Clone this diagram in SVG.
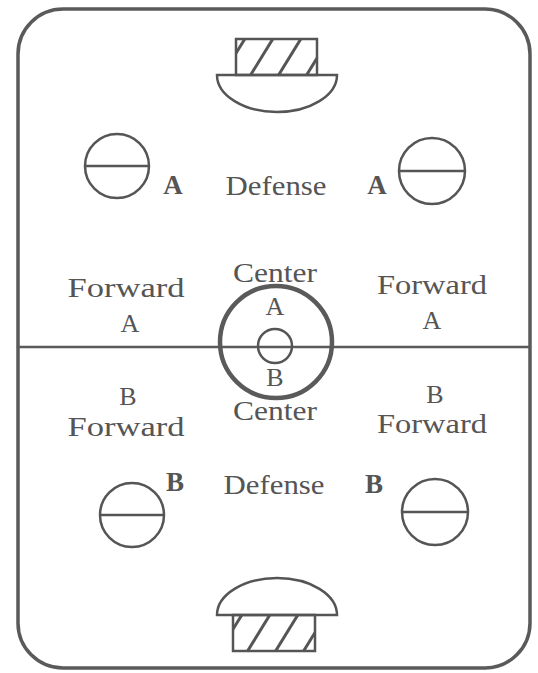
<svg xmlns="http://www.w3.org/2000/svg" width="538" height="673" viewBox="0 0 538 673">
<style>
.ln{fill:none;stroke:#555;stroke-width:2.5}
.h{stroke:#555;stroke-width:3}
text{font-family:"Liberation Serif","Times New Roman",serif;font-size:27px;fill:#555;text-anchor:middle}
.b{font-weight:bold;font-size:27px}
.l{font-size:26px}
</style>
<defs>
<clipPath id="ct"><rect x="236" y="39" width="81" height="35"/></clipPath>
<clipPath id="cb"><rect x="233" y="615" width="82" height="36"/></clipPath>
</defs>
<rect x="18" y="9" width="512" height="659" rx="45" fill="#fff" stroke="#5a5a5a" stroke-width="3.5"/>
<line x1="18" y1="347" x2="530" y2="347" stroke="#5a5a5a" stroke-width="2.5"/>
<g id="goal-top">
<g clip-path="url(#ct)" class="h"><line x1="222" y1="76" x2="246" y2="37"/><line x1="250" y1="76" x2="274" y2="37"/><line x1="278" y1="76" x2="302" y2="37"/><line x1="306" y1="76" x2="330" y2="37"/></g>
<rect x="236" y="39" width="81" height="36" class="ln"/>
<path d="M217 75 H337 A60 37 0 0 1 217 75 Z" class="ln" fill="#fff"/>
</g>
<g id="goal-bottom">
<g clip-path="url(#cb)" class="h"><line x1="219" y1="652" x2="243" y2="613"/><line x1="247" y1="652" x2="271" y2="613"/><line x1="275" y1="652" x2="299" y2="613"/><line x1="303" y1="652" x2="327" y2="613"/></g>
<rect x="233" y="615" width="82" height="36" class="ln"/>
<path d="M217 615 H337 A60 37 0 0 0 217 615 Z" class="ln" fill="#fff"/>
</g>
<g id="center-circle">
<circle cx="276" cy="342" r="56" fill="none" stroke="#5a5a5a" stroke-width="4.5"/>
<circle cx="275" cy="346" r="17" class="ln"/>
<text x="275" y="315" class="l">A</text>
<text x="275" y="386" class="l">B</text>
</g>
<g id="defense-a-left"><circle cx="117" cy="166" r="32" class="ln"/><line x1="85" y1="166" x2="149" y2="166" class="ln"/><text x="173" y="194" class="b">A</text></g>
<g id="defense-a-right"><circle cx="432" cy="171" r="33" class="ln"/><line x1="399" y1="171" x2="465" y2="171" class="ln"/><text x="377" y="194" class="b">A</text></g>
<g id="defense-b-left"><circle cx="132" cy="515" r="32" class="ln"/><line x1="100" y1="515" x2="164" y2="515" class="ln"/><text x="175" y="491" class="b">B</text></g>
<g id="defense-b-right"><circle cx="435" cy="512" r="33" class="ln"/><line x1="402" y1="512" x2="468" y2="512" class="ln"/><text x="374" y="493" class="b">B</text></g>
<g id="labels">
<text x="276" y="195" textLength="101" lengthAdjust="spacingAndGlyphs">Defense</text>
<text x="274" y="494" textLength="101" lengthAdjust="spacingAndGlyphs">Defense</text>
<text x="275" y="282" textLength="84" lengthAdjust="spacingAndGlyphs">Center</text>
<text x="275" y="420" textLength="84" lengthAdjust="spacingAndGlyphs">Center</text>
<text x="126" y="297" textLength="117" lengthAdjust="spacingAndGlyphs">Forward</text>
<text x="130" y="332" class="l">A</text>
<text x="128" y="405" class="l">B</text>
<text x="126" y="436" textLength="117" lengthAdjust="spacingAndGlyphs">Forward</text>
<text x="432" y="294" textLength="110" lengthAdjust="spacingAndGlyphs">Forward</text>
<text x="432" y="329" class="l">A</text>
<text x="435" y="403" class="l">B</text>
<text x="432" y="433" textLength="110" lengthAdjust="spacingAndGlyphs">Forward</text>
</g>
</svg>
